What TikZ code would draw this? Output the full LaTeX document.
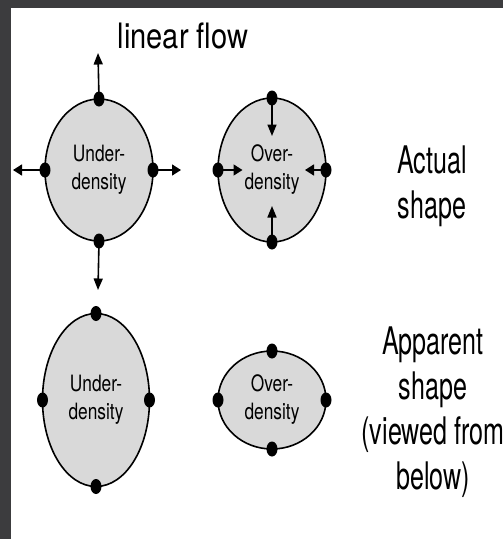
\documentclass[tikz,border=0pt]{standalone}
\usepackage{fontspec}
\setmainfont{TeX Gyre Heros}
\usetikzlibrary{shapes.geometric,arrows.meta}
\definecolor{bgdark}{RGB}{60,60,62}
\definecolor{blobfill}{RGB}{217,217,217}
\tikzset{
  blob/.style={ellipse, draw=black, line width=1.6pt, fill=blobfill, inner sep=0pt, outer sep=0pt},
  pin/.style={ellipse, fill=black, minimum width=11pt, minimum height=15pt, inner sep=0pt, outer sep=0pt},
  varr/.style={line width=1.6pt, -{Triangle[length=11.5pt,width=9pt]}},
  harr/.style={line width=1.6pt, -{Triangle[length=9pt,width=11pt]}},
  inlabel/.style={font=\fontsize{22.5}{28}\selectfont, align=center, xscale=0.77, inner sep=0pt},
  sidelabel/.style={font=\fontsize{38}{45}\selectfont, align=center, xscale=0.66, inner sep=0pt},
}
\begin{document}
\begin{tikzpicture}[x=1pt,y=-1pt]
\useasboundingbox (0,0) rectangle (503,539);
\fill[bgdark] (0,0) rectangle (503,539);
\fill[white] (11,8) rectangle (503,539);

% title
\node[font=\fontsize{35}{42}\selectfont, xscale=0.83, anchor=base, inner sep=0pt] (title) at (183,48) {linear flow};

% ---- actual shapes ----
\node[blob, minimum width=108pt, minimum height=142pt] (uA) at (99,170) {};
\node[inlabel] (uAt) at (uA.center) {Under-\\density};
\node[blob, minimum width=108pt, minimum height=144pt] (oA) at (272,170) {};
\node[inlabel] (oAt) at (oA.center) {Over-\\density};

% outward arrows (under-density)
\coordinate (uAn) at (98,53);
\coordinate (uAs) at (98,290);
\coordinate (uAw) at (13,170);
\coordinate (uAe) at (181,170);
\node[pin] (puAn) at (uA.north) {};
\node[pin] (puAs) at (uA.south) {};
\node[pin] (puAw) at (uA.west) {};
\node[pin] (puAe) at (uA.east) {};
\draw[varr] (puAn.center) -- (uAn);
\draw[varr] (puAs.center) -- (uAs);
\draw[harr] (puAw.center) -- (uAw);
\draw[harr] (puAe.center) -- (uAe);

% inward arrows (over-density)
\coordinate (oAn) at (272,136);
\coordinate (oAs) at (272,206);
\coordinate (oAw) at (242.5,170);
\coordinate (oAe) at (305,170);
\node[pin] (poAn) at (oA.north) {};
\node[pin] (poAs) at (oA.south) {};
\node[pin] (poAw) at (oA.west) {};
\node[pin] (poAe) at (oA.east) {};
\draw[varr] (poAn.center) -- (oAn);
\draw[varr] (poAs.center) -- (oAs);
\draw[harr] (poAw.center) -- (oAw);
\draw[harr] (poAe.center) -- (oAe);

\node[sidelabel] (actual) at (432,186) {Actual\\shape};

% ---- apparent shapes ----
\node[blob, minimum width=107pt, minimum height=173pt] (uB) at (96,400) {};
\node[inlabel] (uBt) at (uB.center) {Under-\\density};
\node[pin] (puBn) at (uB.north) {};
\node[pin] (puBs) at (uB.south) {};
\node[pin] (puBw) at (uB.west) {};
\node[pin] (puBe) at (uB.east) {};

\node[blob, minimum width=108pt, minimum height=98pt] (oB) at (272,400) {};
\node[inlabel] (oBt) at (oB.center) {Over-\\density};
\node[pin] (poBn) at (oB.north) {};
\node[pin] (poBs) at (oB.south) {};
\node[pin] (poBw) at (oB.west) {};
\node[pin] (poBe) at (oB.east) {};

\node[sidelabel] (apparent) at (433,412) {Apparent\\shape\\(viewed from\\below)};
\end{tikzpicture}
\end{document}
